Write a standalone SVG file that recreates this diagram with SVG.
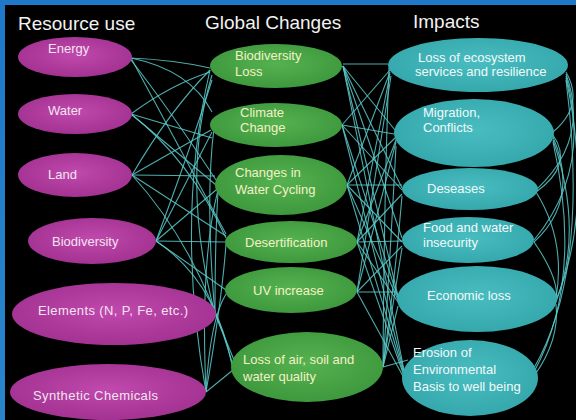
<svg xmlns="http://www.w3.org/2000/svg" width="576" height="420" viewBox="0 0 576 420">
<defs>
<radialGradient id="gp" cx="50%" cy="45%" r="60%"><stop offset="0" stop-color="#c049ad"/><stop offset="1" stop-color="#a0308f"/></radialGradient>
<radialGradient id="gg" cx="50%" cy="45%" r="60%"><stop offset="0" stop-color="#55b24f"/><stop offset="1" stop-color="#3c963c"/></radialGradient>
<radialGradient id="gt" cx="50%" cy="45%" r="60%"><stop offset="0" stop-color="#48bdc0"/><stop offset="1" stop-color="#34a6ab"/></radialGradient>
<linearGradient id="bg" x1="0" y1="0" x2="0" y2="1"><stop offset="0" stop-color="#1f78c8"/><stop offset="1" stop-color="#2a84cc"/></linearGradient>
<style>
.t{font-family:"Liberation Sans",Arial,sans-serif;font-size:19px;fill:#f2f2f2}
.l{font-family:"Liberation Sans",Arial,sans-serif;font-size:13px}
.p ellipse{fill:url(#gp)}
.p text{fill:#f3e4f1}
.g ellipse{fill:url(#gg)}
.g text{fill:#f4f1c6}
.q ellipse{fill:url(#gt)}
.q text{fill:#f2fafa}
#connectors path{fill:none;stroke:#5ccbcb;stroke-width:1.1;stroke-opacity:0.85}
</style>
</defs>
<rect width="576" height="420" fill="url(#bg)"/>
<rect x="5" y="5" width="571" height="415" fill="#000"/>
<text class="t" x="18" y="30">Resource use</text>
<text class="t" x="205" y="29">Global Changes</text>
<text class="t" x="413" y="28">Impacts</text>

<g id="connectors">
<!-- left side -->
<path d="M131,58 Q175,60 210,68"/>
<path d="M131,58 Q190,70 212,112"/>
<path d="M131,58 L226,234"/>
<path d="M131,60 Q170,110 216,180"/>
<path d="M131,114 L212,138"/>
<path d="M131,114 L216,185"/>
<path d="M131,114 Q190,160 226,238"/>
<path d="M131,114 Q170,85 210,72"/>
<path d="M132,175 L215,176"/>
<path d="M132,175 L211,130"/>
<path d="M132,175 Q170,110 210,70"/>
<path d="M132,175 L226,236"/>
<path d="M132,175 Q200,250 232,362"/>
<path d="M156,241 L225,242"/>
<path d="M156,241 L212,132"/>
<path d="M156,241 L216,190"/>
<path d="M156,241 Q190,150 212,80"/>
<path d="M156,241 Q215,280 232,365"/>
<path d="M156,241 L226,290"/>
<path d="M215,314 Q180,180 212,75"/>
<path d="M215,314 Q205,200 214,128"/>
<path d="M215,314 Q215,240 218,192"/>
<path d="M215,314 L234,360"/>
<path d="M206,392 L233,370"/>
<path d="M206,392 Q175,220 210,70"/>
<path d="M206,392 Q200,260 218,190"/>
<path d="M206,392 Q210,320 226,294"/>
<path d="M206,392 Q222,300 226,244"/>
<!-- right side -->
<path d="M343,64 L388,64"/>
<path d="M343,66 L395,130"/>
<path d="M343,66 L402,188"/>
<path d="M343,66 L402,238"/>
<path d="M343,66 L398,296"/>
<path d="M343,66 L404,370"/>
<path d="M342,125 L390,70"/>
<path d="M342,125 L394,134"/>
<path d="M342,125 L402,190"/>
<path d="M342,125 L398,298"/>
<path d="M342,125 L404,372"/>
<path d="M347,185 L402,185"/>
<path d="M347,185 L390,72"/>
<path d="M347,185 L395,138"/>
<path d="M347,185 L402,242"/>
<path d="M347,185 L398,300"/>
<path d="M347,185 L404,374"/>
<path d="M357,242 L402,241"/>
<path d="M357,242 L390,74"/>
<path d="M357,242 L396,140"/>
<path d="M357,242 L402,194"/>
<path d="M357,242 L398,302"/>
<path d="M357,242 L404,376"/>
<path d="M357,292 L397,292"/>
<path d="M357,292 L391,76"/>
<path d="M357,292 L396,142"/>
<path d="M357,292 L402,246"/>
<path d="M357,292 L404,378"/>
<path d="M383,367 L408,360"/>
<path d="M383,367 Q384,200 389,68"/>
<path d="M383,367 L398,306"/>
<path d="M383,367 L402,248"/>
<path d="M383,367 Q390,260 396,146"/>
<path d="M383,367 Q395,280 402,196"/>
<!-- far right arcs -->
<path d="M566,72 Q585,105 553,132"/>
<path d="M566,74 Q590,140 536,190"/>
<path d="M566,76 Q592,170 534,240"/>
<path d="M566,78 Q594,210 556,300"/>
<path d="M566,80 Q590,270 534,368"/>
<path d="M553,135 Q574,165 536,192"/>
<path d="M553,137 Q580,200 534,242"/>
<path d="M553,140 Q584,230 556,302"/>
<path d="M553,142 Q584,280 534,372"/>
<path d="M536,192 Q566,240 556,298"/>
<path d="M534,242 Q560,280 556,300"/>
<path d="M556,304 Q560,340 534,376"/>
</g>

<g id="n-energy" class="p"><ellipse cx="75" cy="57" rx="57" ry="20"/><text class="l" x="48" y="53">Energy</text></g>
<g id="n-water" class="p"><ellipse cx="75" cy="114" rx="57" ry="20"/><text class="l" x="48" y="115">Water</text></g>
<g id="n-land" class="p"><ellipse cx="75" cy="175" rx="57" ry="22"/><text class="l" x="48" y="179">Land</text></g>
<g id="n-biodiversity" class="p"><ellipse cx="92" cy="241" rx="64" ry="23"/><text class="l" x="52" y="246">Biodiversity</text></g>
<g id="n-elements" class="p"><ellipse cx="114" cy="314" rx="102" ry="31"/><text class="l" x="38" y="315" textLength="150">Elements (N, P, Fe, etc.)</text></g>
<g id="n-synthetic" class="p"><ellipse cx="108" cy="392" rx="98" ry="28"/><text class="l" x="33" y="400" textLength="125">Synthetic Chemicals</text></g>

<g id="n-bioloss" class="g"><ellipse cx="276" cy="66" rx="66" ry="22"/><text class="l" x="235" y="60">Biodiversity</text><text class="l" x="235" y="76">Loss</text></g>
<g id="n-climate" class="g"><ellipse cx="276" cy="125" rx="66" ry="22"/><text class="l" x="240" y="117">Climate</text><text class="l" x="240" y="132">Change</text></g>
<g id="n-watercycle" class="g"><ellipse cx="281" cy="185" rx="66" ry="30"/><text class="l" x="235" y="177">Changes in</text><text class="l" x="235" y="194">Water Cycling</text></g>
<g id="n-desert" class="g"><ellipse cx="291" cy="242" rx="66" ry="21"/><text class="l" x="245" y="247">Desertification</text></g>
<g id="n-uv" class="g"><ellipse cx="291" cy="290" rx="66" ry="23"/><text class="l" x="253" y="295">UV increase</text></g>
<g id="n-airsoil" class="g"><ellipse cx="307" cy="367" rx="76" ry="35"/><text class="l" x="243" y="364">Loss of air, soil and</text><text class="l" x="243" y="381">water quality</text></g>

<g id="n-ecosystem" class="q"><ellipse cx="478" cy="65" rx="90" ry="27"/><text class="l" x="418" y="62">Loss of ecosystem</text><text class="l" x="415" y="76">services and resilience</text></g>
<g id="n-migration" class="q"><ellipse cx="474" cy="133" rx="80" ry="34"/><text class="l" x="423" y="117">Migration,</text><text class="l" x="423" y="132">Conflicts</text></g>
<g id="n-deseases" class="q"><ellipse cx="470" cy="189" rx="68" ry="21"/><text class="l" x="427" y="193">Deseases</text></g>
<g id="n-food" class="q"><ellipse cx="468" cy="240" rx="66" ry="23"/><text class="l" x="423" y="232">Food and water</text><text class="l" x="423" y="247">insecurity</text></g>
<g id="n-economic" class="q"><ellipse cx="477" cy="299" rx="80" ry="33"/><text class="l" x="427" y="300">Economic loss</text></g>
<g id="n-erosion" class="q"><ellipse cx="470" cy="378" rx="68" ry="38"/><text class="l" x="413" y="357">Erosion of</text><text class="l" x="413" y="374">Environmental</text><text class="l" x="413" y="391">Basis to well being</text></g>
</svg>
